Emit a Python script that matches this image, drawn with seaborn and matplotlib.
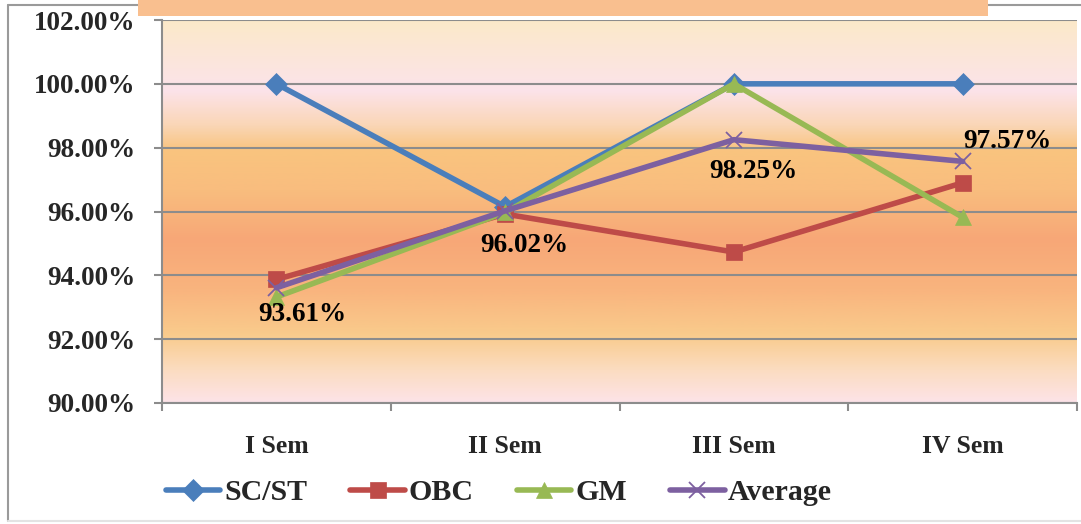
import numpy as np
import pandas as pd
import matplotlib
matplotlib.use("Agg")
import matplotlib.pyplot as plt
import seaborn as sns
from matplotlib.colors import LinearSegmentedColormap
from matplotlib.patches import Rectangle
from matplotlib.lines import Line2D
from matplotlib.ticker import FuncFormatter, FixedLocator

# ---- data ----
categories = ["I Sem", "II Sem", "III Sem", "IV Sem"]
sc_st = [100.0, 96.15, 100.0, 100.0]
obc = [93.87, 95.92, 94.73, 96.90]
gm = [93.32, 95.97, 100.0, 95.82]
average = [93.61, 96.02, 98.25, 97.57]
series_names = ["SC/ST", "OBC", "GM", "Average"]
yticks = [90, 92, 94, 96, 98, 100, 102]

# ---- styles ----
colors = ["#4A7EBB", "#BE4B48", "#98B954", "#7D60A0"]
markers = ["D", "s", "^", "x"]
msizes = [11, 11, 12, 12]
label_offsets = [(19, -19), (14, -25), (14, -23), (32, 14)]  # points
SERIF = ["Liberation Serif", "DejaVu Serif"]

sns.set_theme(style="white")
plt.rcParams["font.family"] = SERIF

fig = plt.figure(figsize=(10.81, 5.24), dpi=100)
fig.patch.set_facecolor("white")
ax = fig.add_axes([162 / 1081, 1 - 403 / 524, (1077 - 162) / 1081, (403 - 20) / 524])
ax.set_facecolor("none")

# gradient background
stops = [(0.0, "#FDE3E8"), (0.086, "#FBDCC0"), (0.178, "#F9CB8C"), (0.295, "#F9B47E"),
         (0.426, "#F7A777"), (0.556, "#F9BD7E"), (0.661, "#F9C47F"), (0.726, "#FAD6B6"),
         (0.817, "#FCE3EA"), (1.0, "#FBE9C9")]
cmap = LinearSegmentedColormap.from_list("bg", stops)
grad = np.linspace(0, 1, 512).reshape(-1, 1)
ax.imshow(grad, cmap=cmap, origin="lower", extent=[0, 1, 0, 1], transform=ax.transAxes,
          aspect="auto", zorder=0)

x = np.arange(len(categories))
data = [sc_st, obc, gm, average]
for name, vals, c, m, ms in zip(series_names, data, colors, markers, msizes):
    sns.lineplot(x=x, y=vals, ax=ax, color=c, marker=m, markersize=ms, lw=4.0,
                 mec=c, mfc=c, mew=(1.3 if m == "x" else 0.5), sort=False, zorder=3,
                 solid_joinstyle="round", solid_capstyle="round")

# data labels for average
for xi, v, off in zip(x, average, label_offsets):
    ax.annotate(f"{v:.2f}%", (xi, v), xytext=off, textcoords="offset points",
                ha="center", va="center", fontsize=19.5, fontweight="bold",
                color="black", zorder=5)

ax.set_xlim(-0.5, 3.5)
ax.set_ylim(90, 102)
ax.set_yticks(yticks)
ax.yaxis.set_major_formatter(FuncFormatter(lambda v, p: f"{v:.2f}%"))
ax.grid(axis="y", color="#8C8C8C", lw=1.5)
ax.grid(axis="x", visible=False)
ax.set_axisbelow(True)
ax.set_xticks(x)
ax.set_xticklabels(categories, fontweight="bold", fontsize=18.5)
ax.xaxis.set_minor_locator(FixedLocator([-0.5, 0.5, 1.5, 2.5, 3.5]))
ax.tick_params(axis="x", which="major", length=0, pad=23)
ax.tick_params(axis="x", which="minor", length=6, width=1.5, color="#8C8C8C", direction="out", bottom=True)
ax.tick_params(axis="y", which="major", length=6, width=1.5, color="#8C8C8C", direction="out",
               left=True, pad=13, labelsize=19.5)
for lbl in ax.get_yticklabels():
    lbl.set_fontweight("bold")
ax.set_xlabel("")
ax.set_ylabel("")
for s in ["top", "right"]:
    ax.spines[s].set_visible(False)
for s in ["left", "bottom"]:
    ax.spines[s].set_color("#8C8C8C")
    ax.spines[s].set_linewidth(1.5)

# legend
handles = [Line2D([0], [0], color=c, lw=4.0, marker=m, markersize=ms, mec=c, mfc=c,
                  mew=(1.3 if m == "x" else 0.5), solid_capstyle="round")
           for c, m, ms in zip(colors, markers, msizes)]
fig.legend(handles, series_names, loc="center", bbox_to_anchor=(499 / 1081, 1 - 493 / 524),
           ncol=4, frameon=False, handlelength=1.83, handletextpad=0.12, columnspacing=1.45,
           prop={"weight": "bold", "size": 21.5})

# chart frame and cropped title box
fig.add_artist(Line2D([8 / 1081, 8 / 1081], [1 - 5 / 524, 1 - 521 / 524], transform=fig.transFigure,
                      color="#9A9A9A", lw=1.5))
fig.add_artist(Line2D([8 / 1081, 1.0], [1 - 5 / 524, 1 - 5 / 524], transform=fig.transFigure,
                      color="#9A9A9A", lw=1.5))
fig.add_artist(Line2D([8 / 1081, 1.0], [1 - 521 / 524, 1 - 521 / 524], transform=fig.transFigure,
                      color="#E3E3E3", lw=1.5))
fig.add_artist(Rectangle((138 / 1081, 1 - 16 / 524), (988 - 138) / 1081, 16 / 524 + 0.01,
                         transform=fig.transFigure, facecolor="#F9BF8F", edgecolor="none", zorder=10))

fig.savefig("out.png", dpi=100)
